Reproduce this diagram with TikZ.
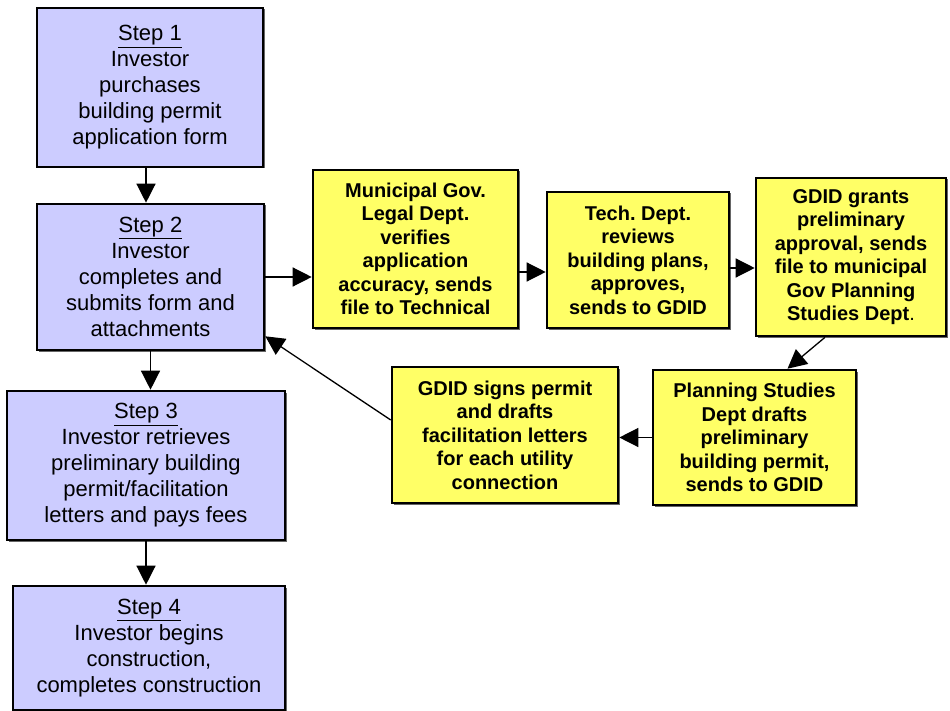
\documentclass[tikz,border=0pt]{standalone}
\usepackage{fontspec}
\setmainfont{Liberation Sans}
\frenchspacing
\usetikzlibrary{positioning, calc, arrows.meta, shadows}
\tikzstyle{pixelGrid} = [x = 1pt, y = -1pt]
\definecolor{stepColor}{RGB}{204,204,255}
\definecolor{officeColor}{RGB}{255,255,102}
\tikzstyle{boxStyle} = [draw=black, line width=2.6pt, rectangle, inner sep=0pt, align=center, drop shadow={shadow xshift=1.5pt, shadow yshift=-1.5pt, fill=black!60, opacity=1}]
\tikzstyle{stepStyle} = [boxStyle, fill=stepColor, font=\fontsize{22}{26}\selectfont]
\tikzstyle{officeStyle} = [boxStyle, fill=officeColor, font=\fontsize{20}{23.5}\selectfont\bfseries]
\tikzstyle{flowLine} = [line width=1.3pt, -{Triangle[length=19pt, width=19pt]}]
\newcommand{\stepTitle}[1]{\underline{Step #1}}

\begin{document}
\begin{tikzpicture}[pixelGrid]
  \useasboundingbox (0,0) rectangle (950,711);

  % investor steps
  \node [stepStyle, minimum width=226pt, minimum height=159pt] (step1) at (150,87.5)
    {\stepTitle{1}\\Investor\\purchases\\building permit\\application form};
  \node [stepStyle, minimum width=227pt, minimum height=146pt] (step2) at (150.5,277)
    {\stepTitle{2}\\Investor\\completes and\\submits form and\\attachments};
  \node [stepStyle, minimum width=278pt, minimum height=149pt] (step3) at (146,465.5)
    {\stepTitle{3}\\Investor retrieves\\preliminary building\\permit/facilitation\\letters and pays fees};
  \node [stepStyle, minimum width=272pt, minimum height=124pt] (step4) at (149,648)
    {\stepTitle{4}\\Investor begins\\construction,\\completes construction};

  % offices
  \node [officeStyle, minimum width=205pt, minimum height=158pt] (legal) at (415.5,249)
    {Municipal Gov.\\Legal Dept.\\verifies\\application\\accuracy, sends\\file to Technical};
  \node [officeStyle, minimum width=182pt, minimum height=136pt] (tech) at (638,260)
    {Tech. Dept.\\reviews\\building plans,\\approves,\\sends to GDID};
  \node [officeStyle, minimum width=190pt, minimum height=158pt] (grants) at (851,257)
    {GDID grants\\preliminary\\approval, sends\\file to municipal\\Gov Planning\\Studies Dept{\mdseries .}};
  \node [officeStyle, minimum width=203pt, minimum height=135pt] (planning) at (754.5,437.5)
    {Planning Studies\\Dept drafts\\preliminary\\building permit,\\sends to GDID};
  \node [officeStyle, minimum width=226pt, minimum height=136pt] (signs) at (505,435)
    {GDID signs permit\\and drafts\\facilitation letters\\for each utility\\connection};

  % connectors
  \coordinate (s1out) at ($(step1.south)+(-4,0)$);
  \coordinate (legalOut) at ($(legal.east)+(0,23)$);
  \coordinate (techOut) at ($(tech.east)+(0,8)$);
  \coordinate (grantsOut) at ($(grants.south)+(-26,0)$);
  \coordinate (planningIn) at ($(planning.north)+(33,0)$);
  \coordinate (signsOut) at ($(signs.west)+(0,-15)$);
  \coordinate (step2In) at ($(step2.south east)+(0,-15)$);

  \draw [flowLine] (s1out) -- (s1out |- step2.north);
  \draw [flowLine] (step2.south) -- (step2.south |- step3.north);
  \draw [flowLine] (step3.south) -- (step3.south |- step4.north);
  \draw [flowLine] (step2.east) -- (step2.east -| legal.west);
  \draw [flowLine] (legalOut) -- (legalOut -| tech.west);
  \draw [flowLine] (techOut) -- (techOut -| grants.west);
  \draw [flowLine] (grantsOut) -- (planningIn);
  \draw [flowLine] (planning.west) -- (planning.west -| signs.east);
  \draw [flowLine] (signsOut) -- (step2In);
\end{tikzpicture}
\end{document}
